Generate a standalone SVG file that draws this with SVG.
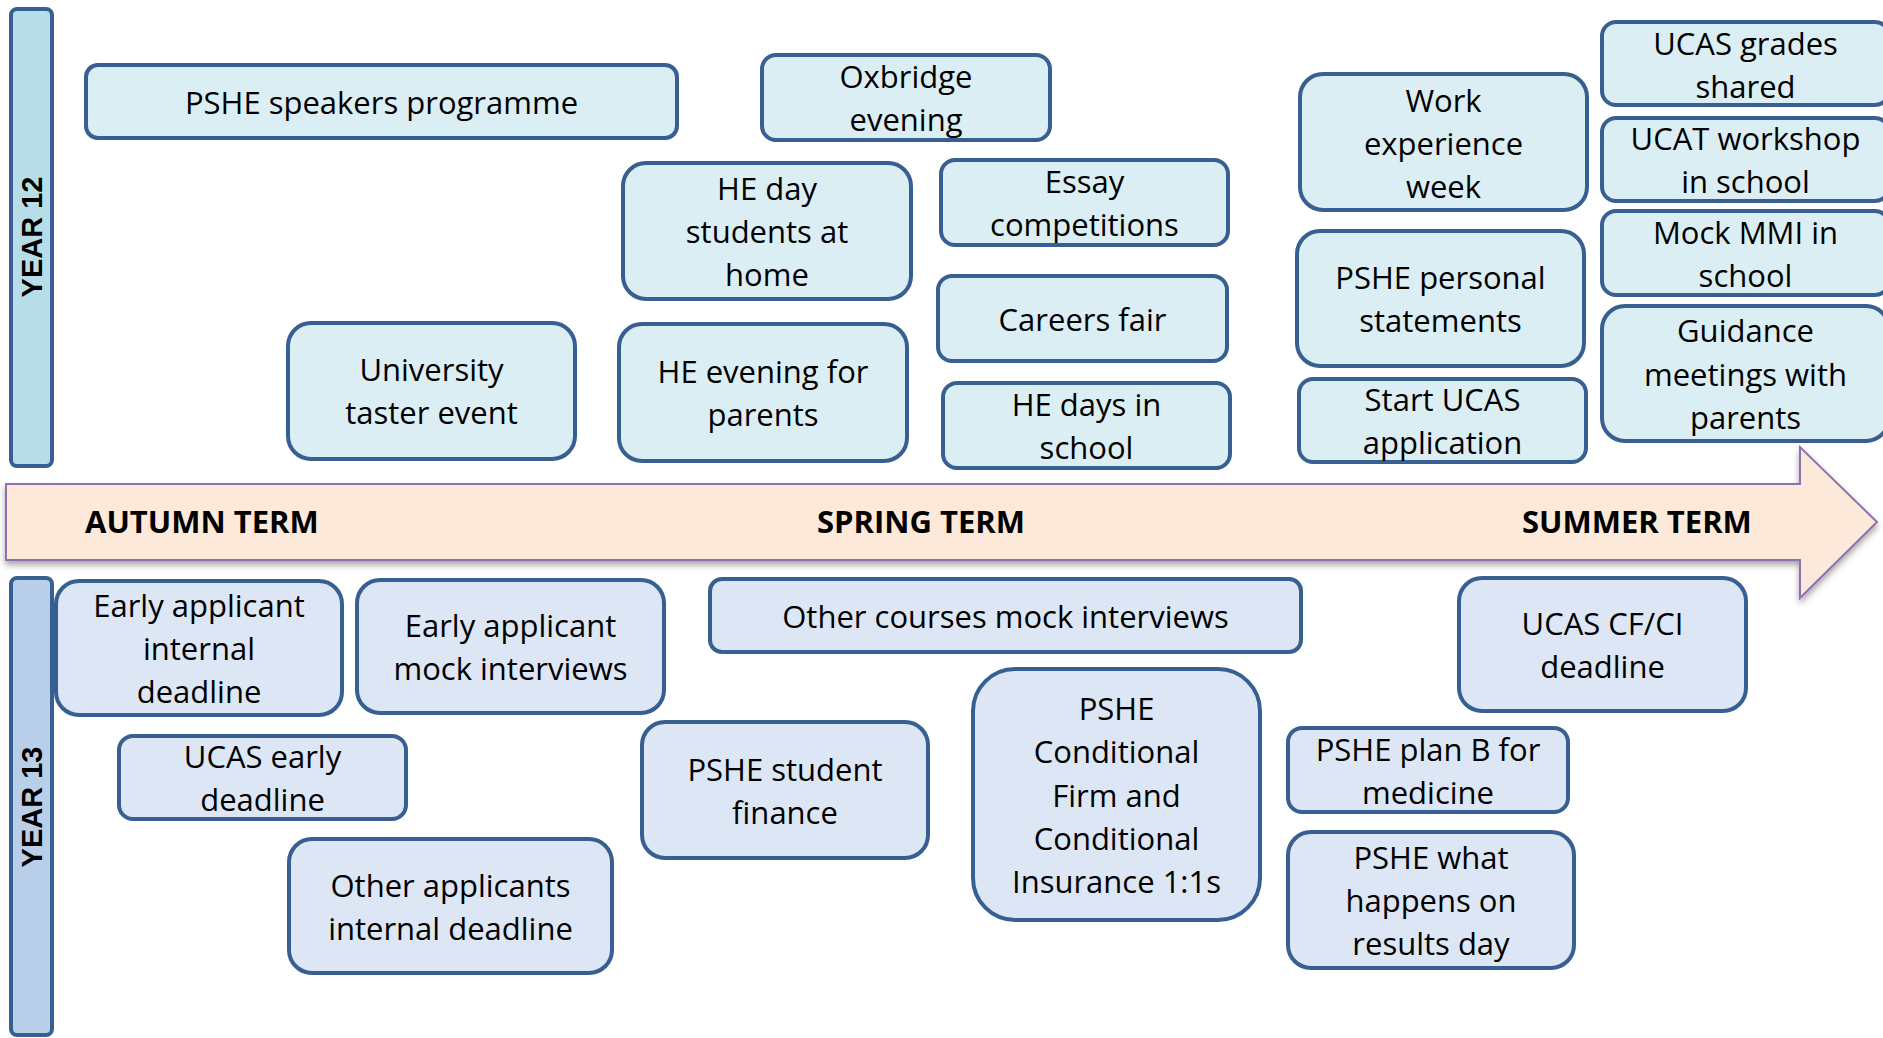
<svg xmlns="http://www.w3.org/2000/svg" width="1883" height="1038" viewBox="0 0 1883 1038">
  <defs>
    <filter id="arrowShadow" x="-5%" y="-20%" width="110%" height="150%">
      <feDropShadow dx="0" dy="4" stdDeviation="3" flood-color="#000" flood-opacity="0.35"/>
    </filter>
  </defs>
  <style>
    .bar { stroke: #385f91; stroke-width: 4; }
    .y12 rect { fill: #dbeef4; stroke: #385f91; stroke-width: 4; }
    .y13 rect { fill: #dce6f4; stroke: #385f91; stroke-width: 4; }
    .node text { font-family: "Open Sans", "Liberation Sans", sans-serif; font-size: 31px; fill: #000; text-anchor: middle; }
    .term { font-family: "Open Sans", "Liberation Sans", sans-serif; font-size: 31px; font-weight: bold; fill: #000; }
    .year { font-family: "Liberation Sans", Arial, sans-serif; font-size: 29px; font-weight: bold; fill: #000; text-anchor: middle; }
  </style>

  <rect width="1883" height="1038" fill="#ffffff"/>

  <!-- Year bands -->
  <g id="year12-band">
    <rect class="bar" x="11" y="9" width="41" height="457" rx="6" fill="#b7dee8"/>
    <text class="year" transform="translate(42,237) rotate(-90)">YEAR 12</text>
  </g>
  <g id="year13-band">
    <rect class="bar" x="11" y="578" width="41" height="457" rx="6" fill="#b9cfe9"/>
    <text class="year" transform="translate(42,807) rotate(-90)">YEAR 13</text>
  </g>

  <!-- Timeline arrow with term labels -->
  <g id="timeline">
    <polygon points="6,484 1800,484 1800,447 1877,522 1800,598 1800,560 6,560" fill="#fde9d9" stroke="#8f6fb0" stroke-width="2" filter="url(#arrowShadow)"/>
    <text class="term" x="85" y="533">AUTUMN TERM</text>
    <text class="term" x="817" y="533">SPRING TERM</text>
    <text class="term" x="1522" y="533">SUMMER TERM</text>
  </g>

  <!-- No connectors between events -->
  <g id="connectors"/>

  <!-- Year 12 events -->
  <g id="y12-speakers" class="node y12">
    <rect x="86" y="65" width="591" height="73" rx="12"/>
    <text x="381.5" y="113.5">PSHE speakers programme</text>
  </g>
  <g id="y12-oxbridge" class="node y12">
    <rect x="762" y="55" width="288" height="85" rx="14"/>
    <text x="906" y="88">Oxbridge</text>
    <text x="906" y="131">evening</text>
  </g>
  <g id="y12-heday" class="node y12">
    <rect x="623" y="163" width="288" height="136" rx="23"/>
    <text x="767" y="200">HE day</text>
    <text x="767" y="243">students at</text>
    <text x="767" y="286">home</text>
  </g>
  <g id="y12-essay" class="node y12">
    <rect x="941" y="160" width="287" height="85" rx="14"/>
    <text x="1084.5" y="193">Essay</text>
    <text x="1084.5" y="236">competitions</text>
  </g>
  <g id="y12-careers" class="node y12">
    <rect x="938" y="276" width="289" height="85" rx="14"/>
    <text x="1082.5" y="330.5">Careers fair</text>
  </g>
  <g id="y12-taster" class="node y12">
    <rect x="288" y="323" width="287" height="136" rx="23"/>
    <text x="431.5" y="381">University</text>
    <text x="431.5" y="424">taster event</text>
  </g>
  <g id="y12-heevening" class="node y12">
    <rect x="619" y="324" width="288" height="137" rx="23"/>
    <text x="763" y="383">HE evening for</text>
    <text x="763" y="426">parents</text>
  </g>
  <g id="y12-hedays" class="node y12">
    <rect x="943" y="383" width="287" height="85" rx="14"/>
    <text x="1086.5" y="416">HE days in</text>
    <text x="1086.5" y="459">school</text>
  </g>
  <g id="y12-workexp" class="node y12">
    <rect x="1300" y="74" width="287" height="136" rx="23"/>
    <text x="1443.5" y="112">Work</text>
    <text x="1443.5" y="155">experience</text>
    <text x="1443.5" y="198">week</text>
  </g>
  <g id="y12-personal" class="node y12">
    <rect x="1297" y="231" width="287" height="135" rx="23"/>
    <text x="1440.5" y="289">PSHE personal</text>
    <text x="1440.5" y="332">statements</text>
  </g>
  <g id="y12-startucas" class="node y12">
    <rect x="1299" y="379" width="287" height="83" rx="14"/>
    <text x="1442.5" y="411">Start UCAS</text>
    <text x="1442.5" y="454">application</text>
  </g>
  <g id="y12-grades" class="node y12">
    <rect x="1602" y="22" width="287" height="83" rx="14"/>
    <text x="1745.5" y="55">UCAS grades</text>
    <text x="1745.5" y="98">shared</text>
  </g>
  <g id="y12-ucat" class="node y12">
    <rect x="1602" y="118" width="287" height="83" rx="14"/>
    <text x="1745.5" y="150">UCAT workshop</text>
    <text x="1745.5" y="193">in school</text>
  </g>
  <g id="y12-mmi" class="node y12">
    <rect x="1602" y="211" width="287" height="84" rx="14"/>
    <text x="1745.5" y="243.5">Mock MMI in</text>
    <text x="1745.5" y="286.5">school</text>
  </g>
  <g id="y12-guidance" class="node y12">
    <rect x="1602" y="306" width="287" height="135" rx="23"/>
    <text x="1745.5" y="342">Guidance</text>
    <text x="1745.5" y="385.5">meetings with</text>
    <text x="1745.5" y="428.5">parents</text>
  </g>

  <!-- Year 13 events -->
  <g id="y13-earlyinternal" class="node y13">
    <rect x="56" y="581" width="286" height="134" rx="23"/>
    <text x="199" y="617">Early applicant</text>
    <text x="199" y="660">internal</text>
    <text x="199" y="703">deadline</text>
  </g>
  <g id="y13-earlymock" class="node y13">
    <rect x="357" y="580" width="307" height="133" rx="23"/>
    <text x="510.5" y="637">Early applicant</text>
    <text x="510.5" y="680">mock interviews</text>
  </g>
  <g id="y13-ucasearly" class="node y13">
    <rect x="119" y="736" width="287" height="83" rx="14"/>
    <text x="262.5" y="768">UCAS early</text>
    <text x="262.5" y="811">deadline</text>
  </g>
  <g id="y13-otherinternal" class="node y13">
    <rect x="289" y="839" width="323" height="134" rx="23"/>
    <text x="450.5" y="896.5">Other applicants</text>
    <text x="450.5" y="939.5">internal deadline</text>
  </g>
  <g id="y13-othermock" class="node y13">
    <rect x="710" y="579" width="591" height="73" rx="12"/>
    <text x="1005.5" y="627.5">Other courses mock interviews</text>
  </g>
  <g id="y13-finance" class="node y13">
    <rect x="642" y="722" width="286" height="136" rx="23"/>
    <text x="785" y="780.5">PSHE student</text>
    <text x="785" y="823.5">finance</text>
  </g>
  <g id="y13-conditional" class="node y13">
    <rect x="973" y="669" width="287" height="251" rx="42"/>
    <text x="1116.5" y="720">PSHE</text>
    <text x="1116.5" y="763">Conditional</text>
    <text x="1116.5" y="806.5">Firm and</text>
    <text x="1116.5" y="850">Conditional</text>
    <text x="1116.5" y="893">Insurance 1:1s</text>
  </g>
  <g id="y13-cfci" class="node y13">
    <rect x="1459" y="578" width="287" height="133" rx="23"/>
    <text x="1602.5" y="635">UCAS CF/CI</text>
    <text x="1602.5" y="678">deadline</text>
  </g>
  <g id="y13-planb" class="node y13">
    <rect x="1288" y="728" width="280" height="84" rx="14"/>
    <text x="1428" y="760.5">PSHE plan B for</text>
    <text x="1428" y="803.5">medicine</text>
  </g>
  <g id="y13-results" class="node y13">
    <rect x="1288" y="832" width="286" height="136" rx="23"/>
    <text x="1431" y="869">PSHE what</text>
    <text x="1431" y="912">happens on</text>
    <text x="1431" y="955">results day</text>
  </g>
</svg>
